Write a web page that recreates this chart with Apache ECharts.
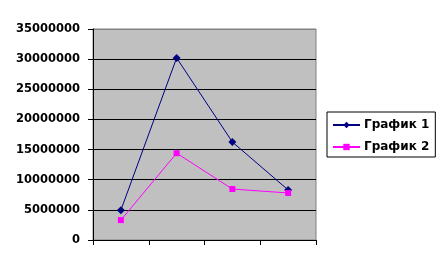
<!DOCTYPE html>
<html><head><meta charset="utf-8">
<script src="https://cdn.jsdelivr.net/npm/echarts@6/dist/echarts.min.js"></script>
<style>html,body{margin:0;padding:0;background:#fff}#c{width:446px;height:274px}</style>
</head><body><div id="c"></div>
<script>
var categories = ['1', '2', '3', '4'];
var series1Name = 'График 1';
var series2Name = 'График 2';
var series1 = [4950000, 30200000, 16250000, 8300000];
var series2 = [3300000, 14400000, 8450000, 7800000];
var yTicks = [0, 5000000, 10000000, 15000000, 20000000, 25000000, 30000000, 35000000];

var chart = echarts.init(document.getElementById('c'));
var font = 'DejaVu Sans';
chart.setOption({
  animation: false,
  grid: {left: 93, top: 29, right: 130, bottom: 34, show: true, backgroundColor: '#c0c0c0', borderColor: '#808080', borderWidth: 1},
  xAxis: {
    type: 'category', data: categories, boundaryGap: true,
    axisLine: {lineStyle: {color: '#000', width: 1}},
    axisTick: {show: true, length: 5, lineStyle: {color: '#000'}},
    axisLabel: {show: false}
  },
  yAxis: {
    type: 'value', min: yTicks[0], max: yTicks[yTicks.length - 1], interval: 5000000,
    axisLine: {show: true, lineStyle: {color: '#000', width: 1}},
    axisTick: {show: true, length: 5, lineStyle: {color: '#000'}},
    axisLabel: {margin: 13, color: '#000', fontFamily: font, fontWeight: 'bold', fontSize: 11.5,
      formatter: function (v) { return String(v); }},
    splitLine: {show: true, lineStyle: {color: ['#000', '#000', '#000', '#000', '#000', '#000', '#000', '#808080'], width: 1}}
  },
  legend: {
    orient: 'vertical', left: 327, top: 112,
    padding: [6, 6, 3, 5], itemGap: 8,
    borderColor: '#000', borderWidth: 1,
    itemWidth: 27, itemHeight: 8,
    textStyle: {color: '#000', fontFamily: font, fontWeight: 'bold', fontSize: 12, lineHeight: 14, padding: [0, 0, 0, -1]},
    data: [series1Name, series2Name]
  },
  series: [
    {name: series1Name, type: 'line', data: series1, symbol: 'diamond', symbolSize: 8,
     itemStyle: {color: '#000080'}, lineStyle: {color: '#000080', width: 1}},
    {name: series2Name, type: 'line', data: series2, symbol: 'rect', symbolSize: 6,
     itemStyle: {color: '#ff00ff'}, lineStyle: {color: '#ff00ff', width: 1}}
  ]
});
</script></body></html>
